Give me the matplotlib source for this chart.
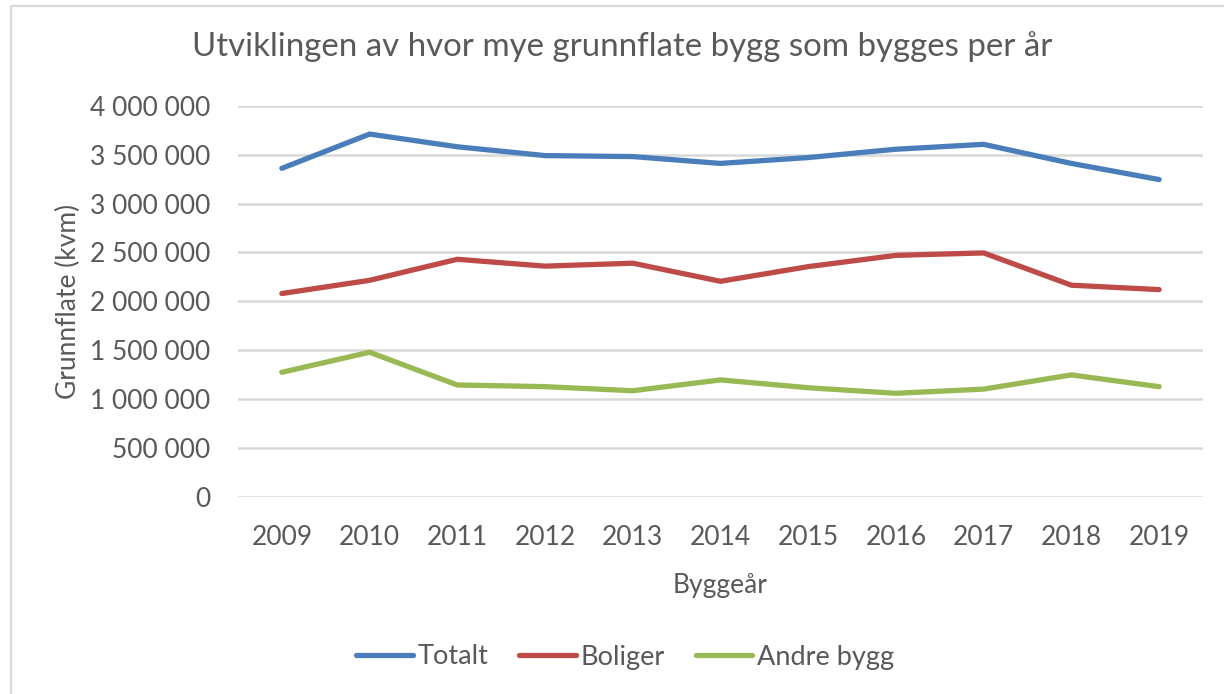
import numpy as np
import matplotlib
matplotlib.use('Agg')
from matplotlib import pyplot as plt
from matplotlib.patches import Rectangle
from matplotlib.ticker import FuncFormatter

## values
years = ['2009', '2010', '2011', '2012', '2013', '2014', '2015', '2016', '2017', '2018', '2019']
totalt = [3360000, 3710000, 3580000, 3490000, 3480000, 3410000, 3470000, 3555000, 3605000, 3410000, 3245000]
boliger = [2080000, 2215000, 2430000, 2360000, 2390000, 2205000, 2355000, 2470000, 2495000, 2165000, 2120000]
andre_bygg = [1275000, 1480000, 1145000, 1128000, 1086000, 1197000, 1117000, 1060000, 1103000, 1248000, 1128000]

text_color = '#595959'
grid_color = '#d9d9d9'

plt.rcParams['font.family'] = ['Lato', 'DejaVu Sans']

fig = plt.figure(figsize=[12.24, 6.94], dpi=100)
ax = fig.add_axes([238/1224, 1 - 497/694, (1203 - 238)/1224, (497 - 105.7)/694])

## chart border (cut off at right and bottom like the screenshot)
fig.patches.append(Rectangle((11/1224, -0.05), 1.2, 1 - 6/694 + 0.05, transform=fig.transFigure,
                             fill=False, edgecolor=grid_color, linewidth=1.6))

x = np.arange(len(years))
ax.plot(x, totalt, color='#4a7ebb', linewidth=3.8, label='Totalt', solid_capstyle='round')
ax.plot(x, boliger, color='#be4b48', linewidth=3.8, label='Boliger', solid_capstyle='round')
ax.plot(x, andre_bygg, color='#98b954', linewidth=3.8, label='Andre bygg', solid_capstyle='round')

ax.set_xlim(-0.5, len(years) - 0.5)
ax.set_ylim(0, 4000000)
ax.set_yticks(np.arange(0, 4000001, 500000))
ax.yaxis.set_major_formatter(FuncFormatter(lambda v, p: f'{int(v):,}'.replace(',', ' ')))
ax.set_xticks(x)
ax.set_xticklabels(years)

ax.grid(axis='y', color=grid_color, linewidth=1.8)
ax.set_axisbelow(True)
for s in ax.spines.values():
    s.set_visible(False)
ax.tick_params(length=0, labelsize=19, colors=text_color)
ax.tick_params(axis='y', pad=20)
ax.tick_params(axis='x', pad=20)

ax.set_xlabel('Byggeår', fontsize=19, color=text_color, labelpad=17)
ax.set_ylabel('Grunnflate (kvm)', fontsize=19, color=text_color, labelpad=6)
fig.text(622/1224, 1 - 47/694, 'Utviklingen av hvor mye grunnflate bygg som bygges per år',
         ha='center', va='center', fontsize=23.8, color=text_color)

leg = fig.legend(loc='center', bbox_to_anchor=(625/1224, 1 - 657/694), ncol=3, frameon=False,
                 fontsize=19.5, handlelength=2.1, handletextpad=0.15, columnspacing=1.15)
for t in leg.get_texts():
    t.set_color(text_color)

plt.savefig('out.png', dpi=100)
plt.close()
